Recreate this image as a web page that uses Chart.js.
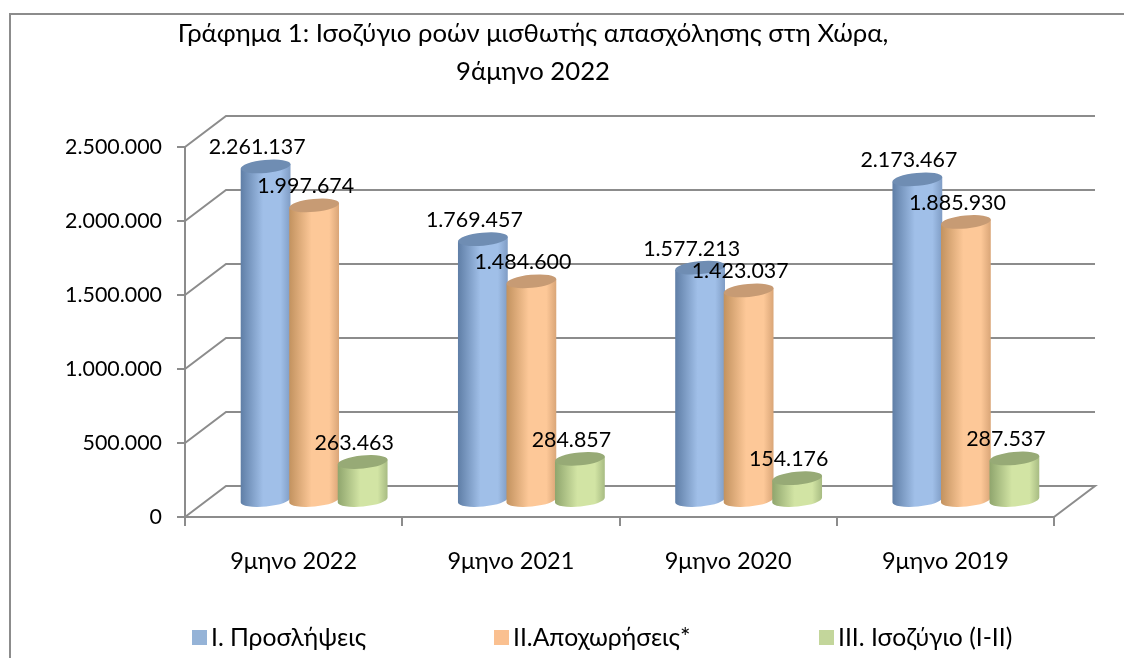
<!DOCTYPE html>
<html><head><meta charset="utf-8">
<style>
html,body{margin:0;padding:0;background:#fff;overflow:hidden}
#wrap{position:relative;width:1124px;height:658px}
#frame{position:absolute;left:9px;top:13px;right:0;bottom:0;border-left:2px solid #8c8c8c;border-top:2px solid #8c8c8c}
canvas{position:absolute;left:0;top:0}
</style>
<script src="https://cdn.jsdelivr.net/npm/chart.js@4"></script>
</head><body><div id="wrap"><div id="frame"></div><canvas id="c" width="1124" height="658"></canvas></div>
<script>
const FONT = 'Lato, "Open Sans", "Noto Sans", sans-serif';
const titleLines = ['Γράφημα 1: Ισοζύγιο ροών μισθωτής απασχόλησης στη Χώρα,', '9άμηνο 2022'];
const categories = ['9μηνο 2022', '9μηνο 2021', '9μηνο 2020', '9μηνο 2019'];
const hires = [2261137, 1769457, 1577213, 2173467];
const exits = [1997674, 1484600, 1423037, 1885930];
const balance = [263463, 284857, 154176, 287537];
const seriesNames = ['Ι. Προσλήψεις', 'ΙΙ.Αποχωρήσεις*', 'ΙΙΙ. Ισοζύγιο (Ι-ΙΙ)'];
const legendX = [192, 494, 819];
const palette = [
  {flat:'#95b3d7', dark:'#5f7ea6', light:'#a0bfe8', mid:'#7f9cc4', top:'#6f8db3'},
  {flat:'#fac090', dark:'#c2925f', light:'#fdc898', mid:'#d9a577', top:'#c79b74'},
  {flat:'#c3d69b', dark:'#8fa56d', light:'#d2e4a4', mid:'#a7bb82', top:'#97aa76'}
];
const fmt = v => String(v).replace(/\B(?=(\d{3})+(?!\d))/g, '.');
const DEPTH_X = 41, DEPTH_Y = 31, BAR_X = 20.5, BAR_Y = 16, TILT = -5.5 * Math.PI / 180, RY = 6.5;

const scene3d = {
  id: 'scene3d',
  afterLayout(chart) {
    const t = chart.titleBlock;
    if (t) { t.left -= 11.5; t.right -= 11.5; }
  },
  beforeDatasetsDraw(chart) {
    const {ctx, chartArea: a, scales} = chart;
    ctx.save();
    ctx.strokeStyle = '#8c8c8c';
    ctx.lineWidth = 2;
    scales.y.ticks.forEach((tk, i) => {
      const y = scales.y.getPixelForTick(i);
      ctx.beginPath();
      ctx.moveTo(a.left, y);
      ctx.lineTo(a.left + DEPTH_X, y - DEPTH_Y);
      ctx.lineTo(a.right + DEPTH_X, y - DEPTH_Y);
      if (tk.value === 0) ctx.lineTo(a.right, y);
      ctx.stroke();
    });
    const metas = chart.data.datasets.map((d, i) => chart.getDatasetMeta(i));
    categories.forEach((_, c) => metas.forEach((m, s) => drawCylinder(ctx, m.data[c], palette[s])));
    ctx.fillStyle = '#000';
    ctx.font = '21.4px ' + FONT;
    ctx.textAlign = 'center';
    ctx.textBaseline = 'middle';
    metas.forEach((m, s) => m.data.forEach((el, c) => {
      ctx.fillText(fmt(chart.data.datasets[s].data[c]), el.x + BAR_X - 8.5, el.y - BAR_Y - 19);
    }));
    ctx.restore();
    return false;
  },
  afterDraw(chart) {
    const ctx = chart.ctx;
    ctx.save();
    ctx.font = '24.7px ' + FONT;
    ctx.textAlign = 'left';
    ctx.textBaseline = 'middle';
    chart.data.datasets.forEach((d, i) => {
      ctx.fillStyle = palette[i].flat;
      ctx.fillRect(legendX[i], 630, 15, 15);
      ctx.fillStyle = '#000';
      ctx.fillText(d.label, legendX[i] + 19, 638);
    });
    ctx.restore();
  }
};

function drawCylinder(ctx, el, col) {
  const cx = el.x + BAR_X, rx = el.width / 2 + 0.75;
  const yT = el.y - BAR_Y, yB = el.base - BAR_Y;
  const ex = rx * Math.cos(TILT), ey = rx * Math.sin(TILT);
  const g = ctx.createLinearGradient(cx - rx, 0, cx + rx, 0);
  g.addColorStop(0, col.dark);
  g.addColorStop(0.45, col.light);
  g.addColorStop(0.8, col.light);
  g.addColorStop(1, col.mid);
  ctx.beginPath();
  ctx.moveTo(cx - ex, yT - ey);
  ctx.lineTo(cx - ex, yB - ey);
  ctx.ellipse(cx, yB, rx, RY, TILT, Math.PI, 0, true);
  ctx.lineTo(cx + ex, yT + ey);
  ctx.closePath();
  ctx.fillStyle = g;
  ctx.fill();
  ctx.beginPath();
  ctx.ellipse(cx, yT, rx, RY, TILT, 0, Math.PI * 2);
  ctx.fillStyle = col.top;
  ctx.fill();
}

new Chart(document.getElementById('c'), {
  type: 'bar',
  data: {
    labels: categories,
    datasets: [
      {label: seriesNames[0], data: hires, backgroundColor: palette[0].flat},
      {label: seriesNames[1], data: exits, backgroundColor: palette[1].flat},
      {label: seriesNames[2], data: balance, backgroundColor: palette[2].flat}
    ]
  },
  plugins: [scene3d],
  options: {
    responsive: false,
    animation: false,
    layout: {padding: {left: 35, right: 70, top: 0, bottom: 0}},
    datasets: {bar: {categoryPercentage: 0.67, barPercentage: 1}},
    plugins: {
      legend: {display: false},
      tooltip: {enabled: false},
      title: {
        display: true,
        text: titleLines,
        color: '#000',
        font: {family: FONT, size: 25.7, weight: 'normal', lineHeight: 1.48},
        padding: {top: 15, bottom: 56}
      }
    },
    scales: {
      y: {
        min: 0, max: 2500000,
        afterFit(s) { s.width = 150; },
        ticks: {stepSize: 500000, padding: 15, color: '#000', font: {family: FONT, size: 21.4}, callback: v => fmt(v)},
        grid: {drawOnChartArea: false, color: '#8c8c8c', lineWidth: 2, tickLength: 8},
        border: {color: '#8c8c8c', width: 2}
      },
      x: {
        afterFit(s) { s.height = 141; },
        ticks: {padding: 21, color: '#000', font: {family: FONT, size: 23.5}},
        grid: {drawOnChartArea: false, color: '#8c8c8c', lineWidth: 2, tickLength: 9},
        border: {color: '#8c8c8c', width: 2}
      }
    }
  }
});
</script></body></html>
